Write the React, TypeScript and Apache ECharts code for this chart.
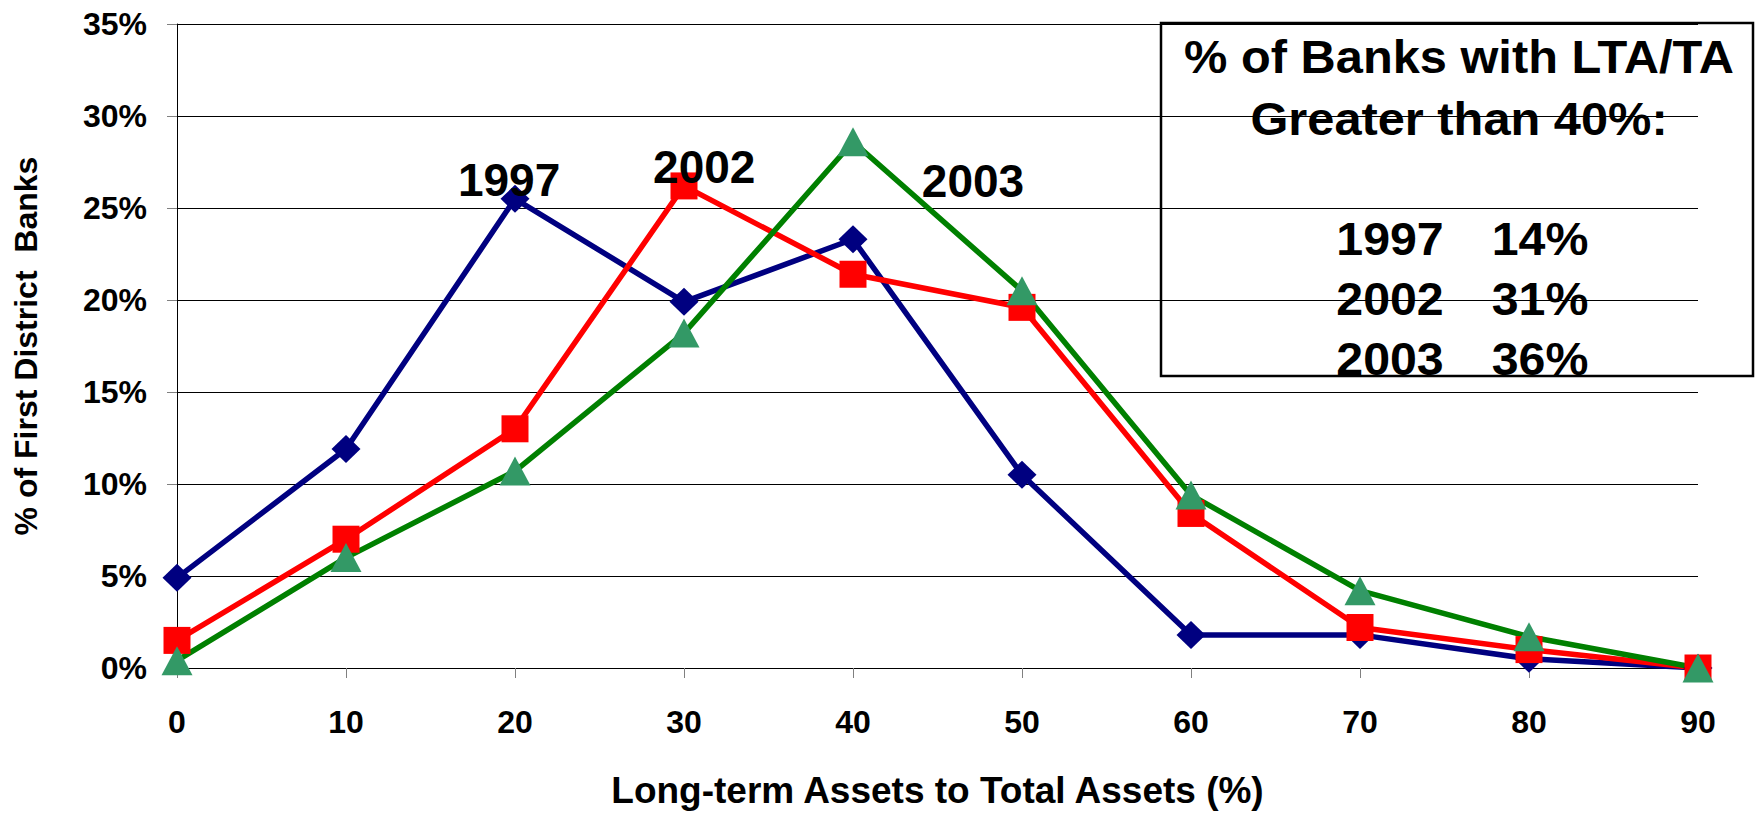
import React, { useEffect, useRef } from "react";
import * as echarts from "echarts";

const xValues = [0, 10, 20, 30, 40, 50, 60, 70, 80, 90];
const series1997 = [4.9, 11.9, 25.5, 19.9, 23.3, 10.5, 1.8, 1.8, 0.5, 0];
const series2002 = [1.5, 7.0, 13.0, 26.2, 21.4, 19.6, 8.4, 2.2, 1.0, 0];
const series2003 = [0.4, 6.0, 10.7, 18.2, 28.6, 20.5, 9.4, 4.2, 1.7, 0];

const seriesNames = ["1997", "2002", "2003"];
// annotation label anchor points (x, y in data units)
const labelAnchors: [number, number][] = [
  [19.65, 26.5],
  [31.2, 27.25],
  [47.1, 26.45],
];

const boxTitleLines = ["% of Banks with LTA/TA", "Greater than 40%:"];
const boxYears = ["1997", "2002", "2003"];
const boxShares = ["14%", "31%", "36%"];

const FONT = '"Liberation Sans", Arial, sans-serif';
const BASE_H = 814;

export default function App() {
  const ref = useRef<HTMLDivElement>(null);
  const H = typeof window !== "undefined" && window.innerHeight ? window.innerHeight : BASE_H;

  useEffect(() => {
    if (!ref.current) return;
    document.documentElement.style.margin = "0";
    document.documentElement.style.overflow = "hidden";
    document.body.style.margin = "0";
    document.body.style.overflow = "hidden";

    const sy = H / BASE_H;
    const chart = echarts.init(ref.current, undefined, { renderer: "svg", width: 1755, height: H });

    const pairs = (arr: number[]) => arr.map((v, i) => [xValues[i], v]);

    const mk = (idx: number) => ({
      symbol: "rect",
      symbolSize: 0,
      itemStyle: { color: "transparent" },
      z: 10,
      label: {
        show: true,
        position: "inside",
        formatter: seriesNames[idx],
        color: "#000",
        fontSize: 46,
        fontWeight: "bold",
        fontFamily: FONT,
      },
      data: [{ coord: labelAnchors[idx], value: seriesNames[idx] }],
    });

    const boxLeft = 1161;
    const boxTop = 23 * sy;
    const boxW = 592;
    const boxH = 353 * sy;
    const centerX = 1459;

    const txt = (s: string, x: number, y: number, sx: number) => ({
      type: "text",
      x,
      y,
      scaleX: sx,
      style: {
        text: s,
        fill: "#000",
        font: `bold 46px ${FONT}`,
        textAlign: "center",
        textVerticalAlign: "middle",
      },
    });

    const boxTexts: any[] = [];
    const titleYs = [57, 119];
    boxTitleLines.forEach((t, i) => boxTexts.push(txt(t, centerX, titleYs[i] * sy, 1.06)));
    const rowYs = [239, 299, 359];
    boxYears.forEach((yr, i) => {
      boxTexts.push(txt(yr, 1390, rowYs[i] * sy, 1.05));
      boxTexts.push(txt(boxShares[i], 1540, rowYs[i] * sy, 1.05));
    });

    chart.setOption({
      animation: false,
      backgroundColor: "#fff",
      grid: { left: 177, width: 1521, top: 24 * sy, height: 654 * sy, containLabel: false },
      xAxis: {
        type: "value",
        min: 0,
        max: 90,
        interval: 10,
        name: "Long-term Assets to Total Assets (%)",
        nameLocation: "middle",
        nameGap: 104 * sy,
        nameTextStyle: { fontSize: 37, fontWeight: "bold", color: "#000", fontFamily: FONT },
        axisLine: { show: true, lineStyle: { color: "#000", width: 1 } },
        axisTick: { show: true, length: 10, lineStyle: { color: "#808080" } },
        axisLabel: { fontSize: 32, fontWeight: "bold", color: "#000", margin: 38 * sy, fontFamily: FONT },
        splitLine: { show: false },
      },
      yAxis: {
        type: "value",
        min: 0,
        max: 35,
        interval: 5,
        name: "% of First District  Banks",
        nameLocation: "middle",
        nameGap: 135,
        nameTextStyle: { fontSize: 32, fontWeight: "bold", color: "#000", fontFamily: FONT },
        axisLine: { show: true, lineStyle: { color: "#000", width: 1 } },
        axisTick: { show: true, length: 10, lineStyle: { color: "#808080" } },
        axisLabel: { fontSize: 32, fontWeight: "bold", color: "#000", margin: 30, formatter: "{value}%", fontFamily: FONT },
        splitLine: { show: true, lineStyle: { color: "#000", width: 1 } },
      },
      series: [
        {
          name: "1997",
          type: "line",
          data: pairs(series1997),
          symbol: "diamond",
          symbolSize: [29, 28],
          lineStyle: { color: "#000080", width: 5.5 },
          itemStyle: { color: "#000080" },
          markPoint: mk(0),
        },
        {
          name: "2002",
          type: "line",
          data: pairs(series2002),
          symbol: "rect",
          symbolSize: 27,
          lineStyle: { color: "#FF0000", width: 5.5 },
          itemStyle: { color: "#FF0000" },
          markPoint: mk(1),
        },
        {
          name: "2003",
          type: "line",
          data: pairs(series2003),
          symbol: "triangle",
          symbolSize: [31, 29],
          lineStyle: { color: "#008000", width: 5.5 },
          itemStyle: { color: "#339966" },
          markPoint: mk(2),
        },
      ],
      graphic: [
        {
          type: "group",
          z: 100,
          children: [
            {
              type: "rect",
              shape: { x: boxLeft, y: boxTop, width: boxW, height: boxH },
              style: { fill: "#fff", stroke: "none" },
            },
            ...boxTexts,
            {
              type: "rect",
              shape: { x: boxLeft, y: boxTop, width: boxW, height: boxH },
              style: { fill: "none", stroke: "#000", lineWidth: 2.5 },
            },
          ],
        },
      ],
    });

    return () => chart.dispose();
  }, [H]);

  return <div ref={ref} style={{ width: 1755, height: H, background: "#fff", overflow: "hidden" }} />;
}
